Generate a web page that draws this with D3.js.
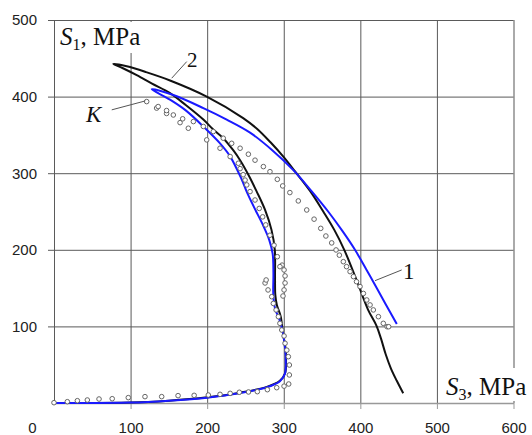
<!DOCTYPE html>
<html>
<head>
<meta charset="utf-8">
<script src="https://cdn.jsdelivr.net/npm/d3@7"></script>
<style>
  body { margin: 0; background: #fff; }
  svg { display: block; }
  .tick text { font-family: "Liberation Sans", Arial, sans-serif; font-size: 15px; fill: #222; }
  .lbl { font-family: "Liberation Serif", "Times New Roman", serif; fill: #111; }
</style>
</head>
<body>
<div id="vis"></div>
<script>
const width = 532;
const height = 435;

// axis ticks
const xTicks = [0, 100, 200, 300, 400, 500, 600];
const yTicks = [100, 200, 300, 400, 500];

// curve 2 (black): [S3, S1]
const curve2 = [
  [0, 0], [100, 0.5], [150, 3], [200, 7.4], [243, 13.5], [278, 21], [295, 29], [301.7, 38.8],
  [303, 56], [302.6, 69], [299, 91], [296, 113], [291, 128], [289, 141], [288.6, 165],
  [288.3, 200], [284, 226], [275.6, 252], [264.7, 276], [253.8, 298], [243, 317], [234, 330],
  [221, 345.7], [208, 357], [195, 370], [172, 389], [151.5, 404.5], [128, 417], [108, 428], [90, 437], [77.5, 442.7],
  [95, 439.5], [120, 432], [151.5, 421], [199.4, 400], [247, 372], [265, 358], [283, 340],
  [300, 321], [315, 302], [335, 276], [351.6, 250], [366, 226], [379, 200], [395, 160.6],
  [410, 122], [421, 101], [427, 84], [433, 64], [440, 45], [447.6, 29], [456, 12.7]
];

// curve 1 (blue)
const curve1 = [
  [0, 0], [100, 0.5], [150, 3], [200, 7], [243, 13], [278, 20.5], [295, 28.5], [301.5, 38],
  [302.6, 56], [302, 69], [299, 91], [294, 110], [289, 122], [286.4, 140], [286.5, 170],
  [285.5, 195], [281, 213], [273, 232], [262, 254], [252, 275], [245, 292], [230, 322],
  [216.8, 339], [195, 361], [172, 382], [151.5, 396], [127.6, 409.7],
  [155.8, 402], [195, 385], [225.5, 370], [256, 353], [285, 330], [312.5, 304], [336, 277],
  [358, 250], [377, 224], [393, 200], [408, 174], [421.4, 150], [447.6, 103]
];

// experimental points K
const kPoints = [
  [0, 0.4], [17.4, 1.7], [30.5, 3], [43.5, 3.9], [58.8, 5.2], [76, 5.6], [97, 7], [118.8, 8.3],
  [140.6, 8.3], [162, 9.6], [183, 10], [201.5, 10.4], [216.8, 11.3], [230, 12.6], [242, 14],
  [254, 14.4], [265.5, 14.8], [278.6, 17.4], [290.8, 20], [300.4, 22], [306.5, 24.8],
  [307.3, 36.6], [307.3, 49.6], [306, 60.5], [304, 69], [301.7, 78], [300.4, 87.5], [297.4, 95.3],
  [295, 104], [293, 112.7], [290, 121.5], [286.4, 130], [284.3, 138.8], [279.5, 147.6],
  [275.6, 156.7], [277, 160.6], [299, 139.7], [300.4, 147.6], [301.7, 156.7], [301.7, 165.9],
  [300.4, 173.7], [297.8, 180], [295, 178], [291.6, 191], [287.3, 206], [282, 219],
  [276.5, 232.5], [272.5, 243], [268, 254], [262.5, 265], [256, 276], [251.7, 284.7],
  [249.5, 291], [247, 298], [243, 306], [240.7, 313], [230, 321.7], [216.8, 332.6],
  [199.4, 343.5], [175.4, 358.7], [164.6, 366], [147, 378], [134, 385], [121, 393.5],
  [136, 387], [147, 381.8], [155.8, 376], [168, 371], [182, 367.4], [195, 361], [208, 354.3],
  [221, 345.7], [232, 339], [243, 332.6], [253.8, 324.8], [262.5, 317], [273.4, 308.6],
  [282, 302], [291.6, 292], [298.6, 283.4], [308, 274.7], [319, 263.8], [330, 252],
  [339.6, 240], [348.3, 228], [355, 218], [362.6, 209], [368.3, 199.8], [372.6, 193],
  [377.8, 184.5], [382, 178], [386.6, 171.5], [391, 165], [395, 158.4], [399.6, 152],
  [404, 143], [408.4, 134.5], [412.7, 128], [417, 121.5], [423.6, 112.7], [430, 104],
  [435, 99.6], [437, 99.6]
];

const x = d3.scaleLinear().domain([0, 600]).range([54, 513.5]);
const y = d3.scaleLinear().domain([0, 500]).range([403, 20]);

const svg = d3.select("#vis")
  .append("svg")
  .attr("width", width)
  .attr("height", height);

// grid
svg.append("g")
  .attr("transform", "translate(0,403)")
  .call(d3.axisBottom(x).tickValues(xTicks.slice(1)).tickSize(-383).tickFormat(""))
  .call(g => g.select(".domain").remove())
  .call(g => g.selectAll(".tick line").attr("stroke", "#5a5a5a"))
  .call(g => g.selectAll(".tick").filter(d => d === 600).select("line")
    .attr("stroke", "#aaa").attr("stroke-width", 2));

svg.append("g")
  .attr("transform", "translate(54,0)")
  .call(d3.axisLeft(y).tickValues(yTicks).tickSize(-459.5).tickFormat(""))
  .call(g => g.select(".domain").remove())
  .call(g => g.selectAll(".tick line").attr("stroke", "#5a5a5a"));

// white boxes behind axis titles
svg.append("rect").attr("x", 56).attr("y", 22).attr("width", 92).attr("height", 31).attr("fill", "#fff");
svg.append("rect").attr("x", 440).attr("y", 368).attr("width", 92).attr("height", 33).attr("fill", "#fff");

// axes with labels
const xAxis = svg.append("g")
  .attr("transform", "translate(0,403)")
  .call(d3.axisBottom(x).tickValues(xTicks).tickSize(6).tickPadding(13).tickSizeOuter(0));
xAxis.select(".domain").attr("stroke", "#999").attr("stroke-width", 1.5);
xAxis.selectAll(".tick line").attr("stroke", "#999");
xAxis.selectAll(".tick").filter(d => d === 0).select("text").attr("dx", -22);
xAxis.selectAll(".tick").filter(d => d === 0).select("line").remove();

const yAxis = svg.append("g")
  .attr("transform", "translate(54,0)")
  .call(d3.axisLeft(y).tickValues(yTicks).tickSize(6).tickPadding(11).tickSizeOuter(0));
yAxis.select(".domain").attr("stroke", "#5a5a5a");
yAxis.selectAll(".tick line").attr("stroke", "#5a5a5a");

// curves
const line = d3.line()
  .x(d => x(d[0]))
  .y(d => y(d[1]))
  .curve(d3.curveCatmullRom.alpha(0.5));

svg.append("path")
  .datum(curve2)
  .attr("d", line)
  .attr("fill", "none")
  .attr("stroke", "#111")
  .attr("stroke-width", 2);

svg.append("path")
  .datum(curve1)
  .attr("d", line)
  .attr("fill", "none")
  .attr("stroke", "#1a1aff")
  .attr("stroke-width", 2);

svg.selectAll("circle.k")
  .data(kPoints)
  .enter()
  .append("circle")
  .attr("class", "k")
  .attr("cx", d => x(d[0]))
  .attr("cy", d => y(d[1]))
  .attr("r", 2.3)
  .attr("fill", "#fff")
  .attr("stroke", "#666")
  .attr("stroke-width", 1);

// leaders
const leaders = [
  [[75.4, 382.7], [119, 394.3]],
  [[153.7, 424], [173.3, 445.7]],
  [[419.2, 159.7], [454, 173.7]]
];
leaders.forEach(l => {
  svg.append("line")
    .attr("x1", x(l[0][0])).attr("y1", y(l[0][1]))
    .attr("x2", x(l[1][0])).attr("y2", y(l[1][1]))
    .attr("stroke", "#555").attr("stroke-width", 1);
});

// labels
const s1 = svg.append("text").attr("class", "lbl").attr("x", 60).attr("y", 45).style("font-size", "25px");
s1.append("tspan").text("S").style("font-style", "italic");
s1.append("tspan").text("1").style("font-size", "16px").attr("dy", 5);
s1.append("tspan").text(", MPa").attr("dy", -5);

const s3 = svg.append("text").attr("class", "lbl").attr("x", 446).attr("y", 395).style("font-size", "25px");
s3.append("tspan").text("S").style("font-style", "italic");
s3.append("tspan").text("3").style("font-size", "16px").attr("dy", 5);
s3.append("tspan").text(", MPa").attr("dy", -5);

svg.append("text").attr("class", "lbl").attr("x", 86).attr("y", 122)
  .style("font-size", "23px").style("font-style", "italic").text("K");
svg.append("text").attr("class", "lbl").attr("x", 187).attr("y", 67)
  .style("font-size", "21px").text("2");
svg.append("text").attr("class", "lbl").attr("x", 403).attr("y", 279)
  .style("font-size", "23px").text("1");
</script>
</body>
</html>
